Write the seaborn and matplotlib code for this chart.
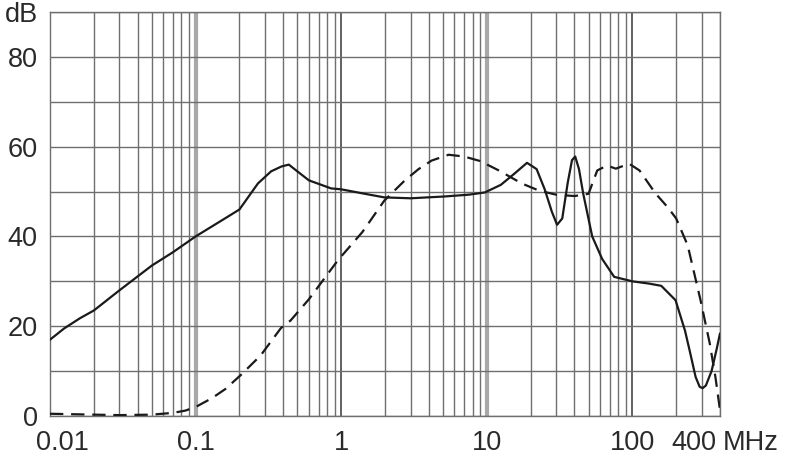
import numpy as np
import pandas as pd
import matplotlib
matplotlib.use("Agg")
import matplotlib.pyplot as plt
import matplotlib.transforms as mtransforms
import seaborn as sns

sns.set_theme(style="white")
plt.rcParams['font.family'] = ['Liberation Sans', 'DejaVu Sans']

# solid curve (MHz, dB)
solid_f = [0.01, 0.0125, 0.0161, 0.02, 0.03, 0.05, 0.07, 0.1, 0.15, 0.2, 0.268,
           0.33, 0.39, 0.437, 0.5, 0.6, 0.853, 1.0, 1.4, 1.98, 3.0, 5.1, 7.5,
           9.7, 12.5, 15.5, 18.9, 22.0, 25.0, 28.0, 30.4, 33.0, 36.0, 38.5, 40.5,
           43.0, 46.0, 53.0, 62.0, 75.0, 100.0, 130.0, 158.0, 198.0, 230.0,
           247.0, 272.0, 290.0, 304.0, 320.0, 350.0, 380.0, 400.0]
solid_db = [17.0, 19.5, 21.8, 23.5, 28.0, 33.5, 36.5, 40.0, 43.5, 46.0, 51.8,
            54.5, 55.6, 56.0, 54.5, 52.5, 50.7, 50.5, 49.6, 48.7, 48.5, 48.9, 49.3,
            49.8, 51.5, 54.0, 56.4, 55.0, 50.5, 45.5, 42.6, 44.0, 52.0, 57.0, 57.8,
            55.0, 49.5, 40.0, 35.0, 31.0, 30.0, 29.5, 29.0, 25.8, 19.0,
            14.7, 8.7, 6.5, 6.2, 6.8, 10.0, 15.0, 18.4]

# dashed curve (MHz, dB)
dash_f = [0.01, 0.02, 0.03, 0.05, 0.07, 0.085, 0.1, 0.13, 0.16, 0.204, 0.28,
          0.386, 0.45, 0.6, 0.95, 1.4, 1.98, 2.72, 3.4, 4.18, 5.47, 7.0, 9.0,
          12.1, 17.4, 22.9, 30.0, 40.0, 50.0, 57.4, 67.0, 77.0, 95.0, 112.0,
          144.0, 175.0, 200.0, 240.0, 294.0, 340.0, 372.0, 400.0]
dash_db = [0.5, 0.3, 0.2, 0.3, 0.7, 1.2, 2.0, 4.0, 6.0, 9.1, 13.5,
           19.6, 21.3, 26.0, 34.7, 41.0, 48.0, 52.4, 55.0, 56.9, 58.2, 57.8, 56.8,
           54.7, 51.8, 50.2, 49.3, 49.0, 49.5, 54.7, 55.8, 55.1, 56.2, 54.7,
           49.6, 46.5, 44.0, 38.0, 25.8, 16.2, 8.7, 1.3]

xtick_vals = [0.01, 0.1, 1, 10, 100]
xtick_text = ['', '0.1', '1', '10', '100']
ytick_vals = [0, 10, 20, 30, 40, 50, 60, 70, 80, 90]
ytick_text = ['0', '', '20', '', '40', '', '60', '', '80', 'dB']

solid = pd.DataFrame({'f': solid_f, 'db': solid_db})
dashed = pd.DataFrame({'f': dash_f, 'db': dash_db})

fig = plt.figure(figsize=(7.9, 4.63), dpi=100)
ax = fig.add_axes([50 / 790, 1 - 416 / 463, 670 / 790, 404 / 463])

gcol = '#6f6f6f'
fs = 19.5
tcol = '#2a2a2a'
ax.set_xscale('log')
ax.set_xlim(0.01, 400)
ax.set_ylim(0, 90)

# grid
minor = [m * 10.0 ** e for e in range(-2, 3) for m in range(2, 10) if m * 10.0 ** e <= 400]
for v in minor:
    ax.axvline(v, color=gcol, lw=1.0, zorder=1)
for v in [0.1, 10]:
    ax.axvline(v, color='#a8a8a8', lw=3.0, zorder=1)
for v in [1, 100]:
    ax.axvline(v, color='#555555', lw=1.3, zorder=1)
for v in ytick_vals:
    ax.axhline(v, color=gcol, lw=1.0, zorder=1)

sns.lineplot(data=solid, x='f', y='db', ax=ax, color='#1a1a1a', lw=1.6,
             sort=False, estimator=None, zorder=3)
sns.lineplot(data=dashed, x='f', y='db', ax=ax, color='#1a1a1a', lw=1.6,
             sort=False, estimator=None, zorder=3, linestyle=(0, (6, 3.5)))

ax.set_xticks(xtick_vals)
ax.set_xticklabels(xtick_text)
ax.set_xticks([], minor=True)
ax.set_yticks(ytick_vals)
ax.set_yticklabels(ytick_text)
ax.tick_params(axis='both', length=0, labelsize=fs, colors=tcol)
ax.tick_params(axis='x', pad=10)
ax.tick_params(axis='y', pad=9)
ax.set_xlabel('')
ax.set_ylabel('')

for s in ax.spines.values():
    s.set_color(gcol)
    s.set_linewidth(1.0)

# special x labels
trans = mtransforms.blended_transform_factory(ax.transData, ax.transAxes)
lab_y = -0.035
ax.text(0.01, lab_y, '0.01', transform=trans + mtransforms.ScaledTranslation(12 / 100, 0, fig.dpi_scale_trans),
        ha='center', va='top', fontsize=fs, color=tcol)
ax.text(400, lab_y, '400', transform=trans + mtransforms.ScaledTranslation(-4 / 100, 0, fig.dpi_scale_trans),
        ha='right', va='top', fontsize=fs, color=tcol)
ax.text(400, lab_y, 'MHz', transform=trans + mtransforms.ScaledTranslation(3 / 100, 0, fig.dpi_scale_trans),
        ha='left', va='top', fontsize=fs, color=tcol)

fig.savefig('out.png', dpi=100)
